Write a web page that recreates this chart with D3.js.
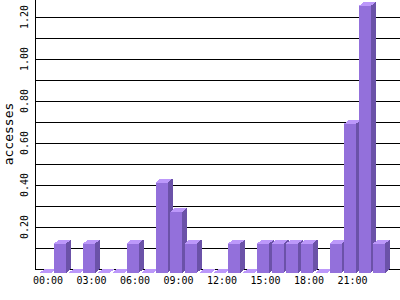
<!DOCTYPE html>
<html>
<head>
<meta charset="utf-8">
<script src="https://cdn.jsdelivr.net/npm/d3@7"></script>
<style>
  body { margin: 0; background: #fff; }
  svg { display: block; }
  text { font-family: "DejaVu Sans Mono", monospace; fill: #000; }
</style>
</head>
<body>
<script>
// data
var hours = d3.range(24);
var accesses = [0, 0.14, 0, 0.14, 0, 0, 0.14, 0, 0.43, 0.29, 0.14, 0, 0, 0.14, 0, 0.14, 0.14, 0.14, 0.14, 0, 0.14, 0.71, 1.27, 0.14];
var hourLabels = ["00:00", "03:00", "06:00", "09:00", "12:00", "15:00", "18:00", "21:00"];
var yTicks = [0.2, 0.4, 0.6, 0.8, 1.0, 1.2];

var width = 400, height = 300;
var depthX = 5, depthY = 4, barW = 12;

var svg = d3.select("body").append("svg")
    .attr("width", width)
    .attr("height", height);

// scales
var x = d3.scaleLinear().domain([0, 24]).range([39.5, 387.5]);
var y = d3.scaleLinear().domain([0, 1.2]).range([269, 17]);

// grid lines (every 0.1)
svg.append("g")
  .selectAll("line")
  .data(d3.range(0, 13).map(function(i) { return i / 10; }))
  .enter()
  .append("line")
  .attr("x1", 35)
  .attr("x2", width)
  .attr("y1", function(d) { return Math.round(y(d)) + 0.5; })
  .attr("y2", function(d) { return Math.round(y(d)) + 0.5; })
  .attr("stroke", "#000")
  .attr("stroke-width", 1);

// y axis line
svg.append("line")
  .attr("x1", 35.5).attr("x2", 35.5)
  .attr("y1", 0).attr("y2", y(0) + 1)
  .attr("stroke", "#000");

// y tick labels (rotated)
svg.append("g")
  .selectAll("text")
  .data(yTicks)
  .enter()
  .append("text")
  .attr("transform", function(d) { return "translate(28," + y(d) + ") rotate(-90)"; })
  .attr("text-anchor", "middle")
  .style("font-size", "10px")
  .text(function(d) { return d.toFixed(2); });

// y axis title
svg.append("text")
  .attr("transform", "translate(13,134) rotate(-90)")
  .attr("text-anchor", "middle")
  .style("font-size", "13px")
  .text("accesses");

// 3d bars
var base = y(0) + depthY;
var bars = svg.append("g")
  .selectAll("g")
  .data(hours)
  .enter()
  .append("g")
  .attr("shape-rendering", "crispEdges");

function topY(h) { return y(accesses[h]) + depthY; }

// front face
bars.append("rect")
  .attr("x", function(h) { return x(h); })
  .attr("y", function(h) { return topY(h); })
  .attr("width", barW)
  .attr("height", function(h) { return base - topY(h); })
  .attr("fill", "#9370db");

// side face
bars.append("polygon")
  .attr("points", function(h) {
    var x0 = x(h) + barW, t = topY(h);
    return [[x0, t], [x0 + depthX, t - depthY], [x0 + depthX, base - depthY], [x0, base]].join(" ");
  })
  .attr("fill", "#6b52a8");

// top face
bars.append("polygon")
  .attr("points", function(h) {
    var x0 = x(h), t = topY(h);
    return [[x0, t], [x0 + depthX, t - depthY], [x0 + barW + depthX, t - depthY], [x0 + barW, t]].join(" ");
  })
  .attr("fill", "#bc98fa");

// x labels every 3 hours
svg.append("g")
  .selectAll("text")
  .data(hourLabels)
  .enter()
  .append("text")
  .attr("x", function(d, i) { return x(i * 3) + (barW + depthX) / 2; })
  .attr("y", 284)
  .attr("text-anchor", "middle")
  .style("font-size", "10px")
  .text(function(d) { return d; });
</script>
</body>
</html>
